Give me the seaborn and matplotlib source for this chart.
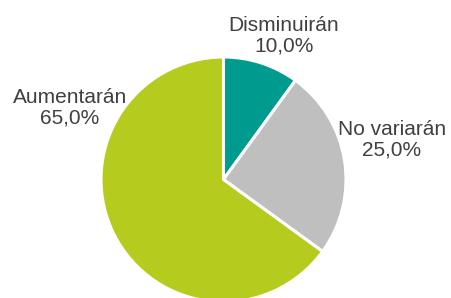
import matplotlib
matplotlib.use("Agg")
import matplotlib.pyplot as plt
import seaborn as sns

categories = ["Disminuirán", "No variarán", "Aumentarán"]
shares = [10.0, 25.0, 65.0]
colors = ["#009B8F", "#BFBFBF", "#B5CC1F"]

sns.set_theme(style="white")
plt.rcParams["font.family"] = ["Liberation Sans", "DejaVu Sans"]

W, H = 451, 298
fig = plt.figure(figsize=(W / 100, H / 100), dpi=100)

# pie centre ~ (223.5, 179.5) px, radius ~122.5 px
cx, cy, r = 223.5, 179.5, 122.5
ax = fig.add_axes([(cx - r) / W, (H - cy - r) / H, 2 * r / W, 2 * r / H])
ax.pie(shares, colors=sns.color_palette(colors), startangle=90, counterclock=False,
       radius=1, wedgeprops=dict(edgecolor="white", linewidth=2.2, clip_on=False))
ax.set_xlim(-1, 1)
ax.set_ylim(-1, 1)
ax.set_aspect("equal")
ax.axis("off")

# label positions in pixels (centre of the two-line block)
label_pos = [(284, 36), (392, 140), (70, 108)]
for name, val, (x, y) in zip(categories, shares, label_pos):
    txt = f"{name}\n{val:.1f}%".replace(".", ",")
    fig.text(x / W, 1 - y / H, txt, ha="center", va="center", fontsize=15,
             color="#404040", linespacing=1.1)

fig.savefig("out.png", dpi=100)
